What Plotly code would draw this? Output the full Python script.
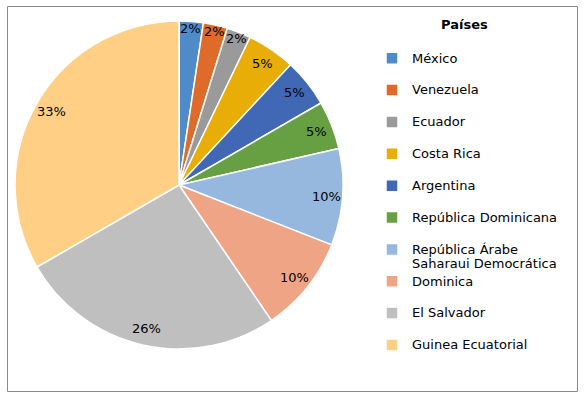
import math
import plotly.graph_objects as go

countries = ["México", "Venezuela", "Ecuador", "Costa Rica", "Argentina",
             "República Dominicana", "República Árabe Saharaui Democrática",
             "Dominica", "El Salvador", "Guinea Ecuatorial"]
counts = [1, 1, 1, 2, 2, 2, 4, 4, 11, 14]
colors = ["#4E8BC8", "#DE6B2A", "#9A9A9A", "#E8AD06", "#4068B5",
          "#66A043", "#96B8DF", "#F0A486", "#BFBFBF", "#FFCF86"]
legend_title = "Países"

W, H = 584, 398
# pie geometry in pixels
cx, cy, r = 179, 185, 164
FONT = "DejaVu Sans"

def wrap(name):
    if name == "República Árabe Saharaui Democrática":
        lines = ["República Árabe", "Saharaui Democrática"]
    else:
        lines = [name, " "]
    return "<br>".join(f'<span style="font-size:13px">{l}</span>' for l in lines)

labels = [wrap(c) for c in countries]

fig = go.Figure()
fig.add_trace(go.Pie(
    labels=labels,
    values=counts,
    sort=False,
    direction="clockwise",
    rotation=0,
    marker=dict(colors=colors, line=dict(color="white", width=1.5)),
    textinfo="none",
    hoverinfo="percent",
    domain=dict(x=[(cx - r) / W, (cx + r) / W],
                y=[1 - (cy + r) / H, 1 - (cy - r) / H]),
))

total = sum(counts)
cum = 0
annotations = []
for v in counts:
    mid = (cum + v / 2) / total * 2 * math.pi
    cum += v
    share = v / total
    f = 0.96 if share < 0.03 else 0.9
    px = cx + f * r * math.sin(mid)
    py = cy - f * r * math.cos(mid)
    annotations.append(dict(
        x=px / W, y=1 - py / H, xref="paper", yref="paper",
        text=f"{round(share * 100)}%", showarrow=False,
        font=dict(family=FONT, size=13, color="#000000"),
        xanchor="center", yanchor="middle"))

annotations.append(dict(
    x=464 / W, y=1 - 25 / H, xref="paper", yref="paper",
    text=f"<b>{legend_title}</b>", showarrow=False,
    font=dict(family=FONT, size=13, color="#000000"),
    xanchor="center", yanchor="middle"))

fig.update_layout(
    width=W, height=H,
    margin=dict(l=0, r=0, t=0, b=0),
    paper_bgcolor="white",
    plot_bgcolor="white",
    font=dict(family=FONT, size=11.1, color="#000000"),
    showlegend=True,
    legend=dict(
        x=372 / W, y=1 - 44.5 / H, xanchor="left", yanchor="top",
        valign="top",
        font=dict(family=FONT, size=11.1, color="#000000"),
        bgcolor="rgba(0,0,0,0)",
        tracegroupgap=0,
    ),
    annotations=annotations,
    shapes=[dict(type="rect", xref="paper", yref="paper",
                 x0=7.5 / W, x1=577.5 / W, y0=1 - 391.5 / H, y1=1 - 6.5 / H,
                 line=dict(color="#8A8A8A", width=1), layer="below")],
)

fig.write_html("out.html",
               config={"displayModeBar": False},
               post_script="document.body.style.margin='0px';")
